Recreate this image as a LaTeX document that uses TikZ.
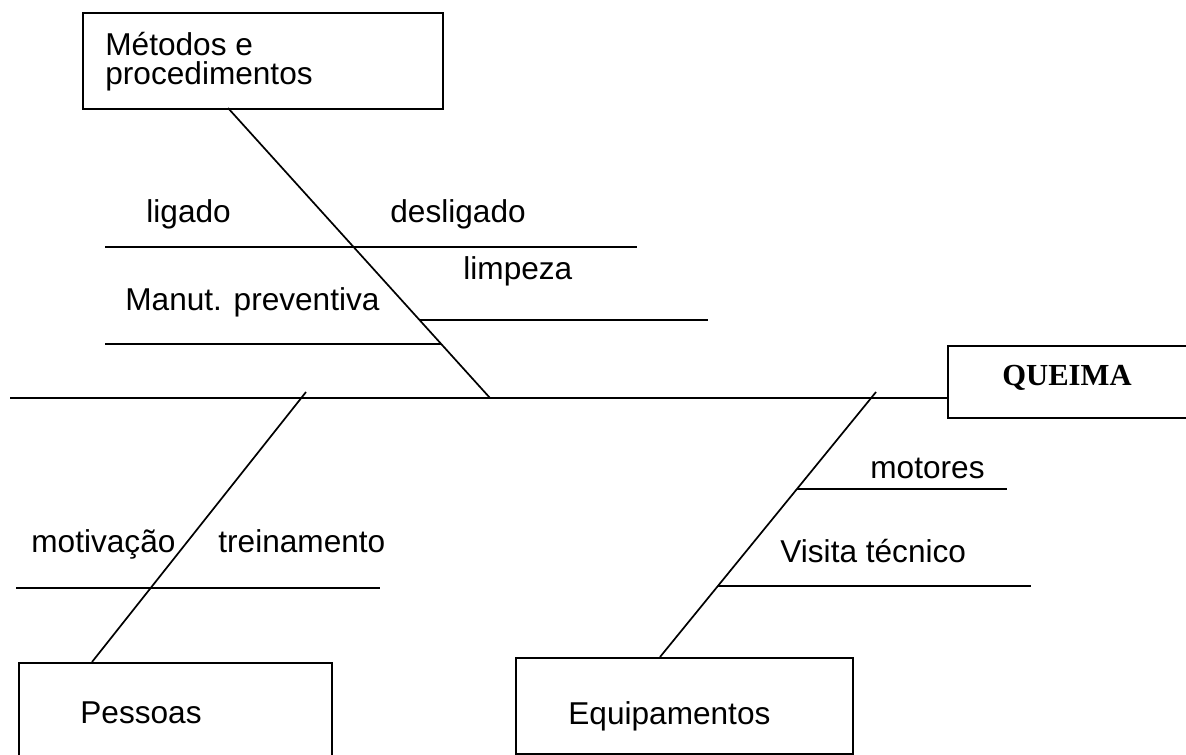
\documentclass[tikz,border=0pt]{standalone}
\usepackage{fontspec}
\setmainfont{Liberation Sans}
\newfontfamily\titlefont{Liberation Serif}
\begin{document}
\begin{tikzpicture}[x=0.5pt,y=-0.5pt,
  lbl/.style={anchor=base west,inner sep=0pt,font=\fontsize{15.8}{14.5}\selectfont},
  boxn/.style={draw,line width=1.2pt,anchor=north west,inner sep=0pt},
  bone/.style={line width=0.85pt},
  spine/.style={line width=1.1pt}]
\useasboundingbox (0,0) rectangle (1186,754);
\fill[white] (0,0) rectangle (1186,754);

% boxes
\node[boxn,minimum width=180pt,minimum height=48pt] (metodos) at (82,12) {};
\node[boxn,minimum width=156.5pt,minimum height=50pt] (pessoas) at (18,662) {};
\node[boxn,minimum width=168.5pt,minimum height=48pt] (equip) at (515,657) {};
\node[boxn,minimum width=125pt,minimum height=36pt] (queima) at (947,345) {};

% box texts (base anchor = baseline of the last line)
\node[lbl,align=left] (tmet) at (105,85) {Métodos e\\procedimentos};
\node[lbl] (tpes) at (80,723) {Pessoas};
\node[lbl] (tequ) at (568,724) {Equipamentos};
\node[anchor=base,inner sep=0pt,font=\titlefont\bfseries\fontsize{15.3}{18}\selectfont] (tque) at (1067,385) {QUEIMA};

% spine
\coordinate (sL) at (10,398);
\coordinate (sR) at (947,398);
\draw[spine] (sL) -- (sR);

% diagonal bones
\coordinate (mtop) at (228,108);
\coordinate (mend) at (490,398);
\draw[bone] (mtop) -- (mend);
\coordinate (ptop) at (306,392);
\coordinate (pbot) at (92,662);
\draw[bone] (ptop) -- (pbot);
\coordinate (etop) at (876,392);
\coordinate (ebot) at (660,657);
\draw[bone] (etop) -- (ebot);

% branch lines
\coordinate (a1) at (105,247); \coordinate (a2) at (637,247);
\draw[bone] (a1) -- (a2);
\coordinate (b1) at (420,320); \coordinate (b2) at (708,320);
\draw[bone] (b1) -- (b2);
\coordinate (c1) at (105,344); \coordinate (c2) at (441,344);
\draw[bone] (c1) -- (c2);
\coordinate (d1) at (16,588); \coordinate (d2) at (380,588);
\draw[bone] (d1) -- (d2);
\coordinate (e1) at (797,489); \coordinate (e2) at (1007,489);
\draw[bone] (e1) -- (e2);
\coordinate (f1) at (718,586); \coordinate (f2) at (1031,586);
\draw[bone] (f1) -- (f2);

% branch labels
\node[lbl] (ligado) at (146,222) {ligado};
\node[lbl] (desligado) at (390,222) {desligado};
\node[lbl] (limpeza) at (463,279) {limpeza};
\node[lbl] (manut) at (125,310) {Manut. preventiva};
\node[lbl] (motiv) at (31,552) {motivação};
\node[lbl] (trein) at (218,552) {treinamento};
\node[lbl] (motores) at (870,478) {motores};
\node[lbl] (visita) at (780,562) {Visita técnico};
\end{tikzpicture}
\end{document}
